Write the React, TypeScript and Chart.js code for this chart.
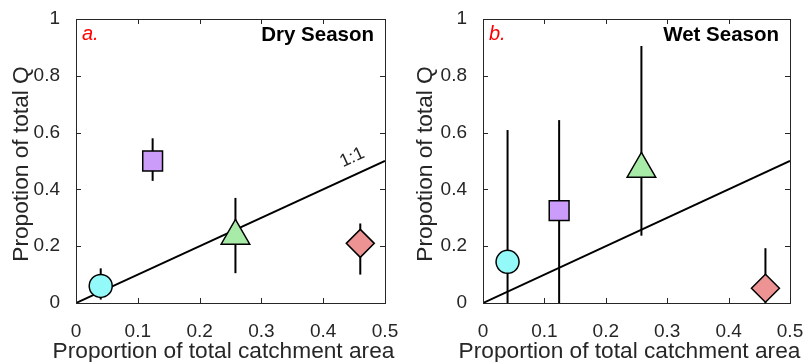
import React, { useEffect, useRef } from 'react';
import { Chart, registerables } from 'chart.js';

Chart.register(...registerables);

// ---- data ----
const areaFraction = [0.04, 0.124, 0.258, 0.46];
const dryQ = [0.06, 0.5, 0.236, 0.21];
const dryLow = [0.012, 0.43, 0.105, 0.1];
const dryHigh = [0.122, 0.58, 0.37, 0.28];
const wetQ = [0.145, 0.325, 0.472, 0.052];
const wetLow = [0, 0, 0.237, 0];
const wetHigh = [0.609, 0.644, 0.905, 0.193];
const oneToOneX = [0, 0.5];
const markerStyles = ['circle', 'rect', 'triangle', 'rectRot'];
const markerColors = ['#94F9F9', '#CC9CFA', '#A8EBA8', '#EE9393'];
const markerRadii = [11.5, 14, 16.5, 14];
const xTickValues = [0, 0.1, 0.2, 0.3, 0.4, 0.5];
const yTickValues = [0, 0.2, 0.4, 0.6, 0.8, 1];
const xTitle = 'Proportion of total catchment area';
const yTitle = 'Propotion of total Q';

const FONT = '"Liberation Sans", Arial, Helvetica, sans-serif';
const AXIS_COLOR = '#262626';

const framePlugin = {
  id: 'frame',
  beforeDatasetsDraw(chart: any, _args: any, opts: any) {
    const { ctx, scales } = chart;
    const x = scales.x, y = scales.y;
    ctx.save();
    ctx.strokeStyle = '#000';
    ctx.lineWidth = 2;
    opts.low.forEach((lo: number, i: number) => {
      const px = x.getPixelForValue(opts.xs[i]);
      ctx.beginPath();
      ctx.moveTo(px, y.getPixelForValue(lo));
      ctx.lineTo(px, y.getPixelForValue(opts.high[i]));
      ctx.stroke();
    });
    ctx.restore();
  },
  afterDatasetsDraw(chart: any, _args: any, opts: any) {
    const { ctx, chartArea: a, scales } = chart;
    const x = scales.x, y = scales.y;
    ctx.save();
    ctx.strokeStyle = AXIS_COLOR;
    ctx.lineWidth = 1;
    ctx.strokeRect(a.left + 0.5, a.top + 0.5, a.right - a.left, a.bottom - a.top);
    const tl = 5;
    ctx.beginPath();
    xTickValues.forEach((v) => {
      const px = Math.round(x.getPixelForValue(v)) + 0.5;
      ctx.moveTo(px, a.bottom);
      ctx.lineTo(px, a.bottom - tl);
      ctx.moveTo(px, a.top);
      ctx.lineTo(px, a.top + tl);
    });
    yTickValues.forEach((v) => {
      const py = Math.round(y.getPixelForValue(v)) + 0.5;
      ctx.moveTo(a.left, py);
      ctx.lineTo(a.left + tl, py);
      ctx.moveTo(a.right, py);
      ctx.lineTo(a.right - tl, py);
    });
    ctx.stroke();

    // axis titles (drawn without width compression)
    ctx.fillStyle = AXIS_COLOR;
    ctx.font = `22.7px ${FONT}`;
    ctx.textAlign = 'center';
    ctx.textBaseline = 'alphabetic';
    ctx.fillText(xTitle, (a.left + a.right) / 2 - 7, 358);
    ctx.save();
    ctx.translate(21.5, (a.top + a.bottom) / 2 + 3);
    ctx.rotate(-Math.PI / 2);
    ctx.textBaseline = 'middle';
    ctx.fillText(yTitle, 0, 0);
    ctx.restore();

    // panel letter
    ctx.fillStyle = '#FF0000';
    ctx.font = `italic 20px ${FONT}`;
    ctx.textBaseline = 'alphabetic';
    ctx.textAlign = 'left';
    ctx.fillText(opts.letter, a.left + 6, a.top + 21);
    // season title
    ctx.fillStyle = '#000';
    ctx.font = `bold 20.5px ${FONT}`;
    ctx.textAlign = 'right';
    ctx.fillText(opts.season, a.right - 11, a.top + 22);

    if (opts.ratioLabel) {
      const p0x = x.getPixelForValue(0), p0y = y.getPixelForValue(0);
      const p1x = x.getPixelForValue(0.5), p1y = y.getPixelForValue(0.5);
      const ang = Math.atan2(p1y - p0y, p1x - p0x);
      const tx = x.getPixelForValue(0.447), ty = y.getPixelForValue(0.512);
      ctx.translate(tx, ty);
      ctx.rotate(ang);
      ctx.font = `18px ${FONT}`;
      ctx.fillStyle = AXIS_COLOR;
      ctx.textAlign = 'center';
      ctx.textBaseline = 'middle';
      ctx.fillText(opts.ratioLabel, 0, 0);
    }
    ctx.restore();
  },
};

const fmt = (v: any) => String(Number(v));

function Panel(props: {
  q: number[]; low: number[]; high: number[]; letter: string; season: string;
  ratioLabel: string | null; axisWidth: number; rightPad: number;
}) {
  const ref = useRef<HTMLCanvasElement>(null);
  useEffect(() => {
    const chart = new Chart(ref.current as HTMLCanvasElement, {
      type: 'scatter',
      data: {
        datasets: [
          {
            type: 'scatter',
            data: areaFraction.map((v, i) => ({ x: v, y: props.q[i] })),
            pointStyle: markerStyles as any,
            pointRadius: markerRadii,
            pointBackgroundColor: markerColors,
            pointBorderColor: '#000',
            pointBorderWidth: 1.5,
            order: 0,
            clip: false as any,
          },
          {
            type: 'line',
            data: oneToOneX.map((v) => ({ x: v, y: v })),
            borderColor: '#000',
            borderWidth: 2,
            pointRadius: 0,
            order: 1,
          } as any,
        ],
      },
      options: {
        animation: false,
        responsive: false,
        devicePixelRatio: 1,
        events: [],
        layout: { padding: { top: 19, right: props.rightPad, left: 0, bottom: 0 } },
        plugins: {
          legend: { display: false },
          tooltip: { enabled: false },
          frame: {
            xs: areaFraction, low: props.low, high: props.high,
            letter: props.letter, season: props.season, ratioLabel: props.ratioLabel,
          },
        } as any,
        scales: {
          x: {
            type: 'linear',
            min: 0,
            max: 0.5,
            afterFit: (s: any) => { s.height = 59; s.paddingLeft = 0; s.paddingRight = 0; },
            afterBuildTicks: (s: any) => { s.ticks = xTickValues.map((v) => ({ value: v })); },
            grid: { display: false },
            border: { display: false },
            ticks: { color: AXIS_COLOR, font: { family: FONT, size: 19 }, padding: 9, maxRotation: 0, callback: fmt },
            title: { display: false },
          },
          y: {
            type: 'linear',
            min: 0,
            max: 1,
            afterFit: (s: any) => { s.width = props.axisWidth; s.paddingTop = 0; s.paddingBottom = 0; },
            afterBuildTicks: (s: any) => { s.ticks = yTickValues.map((v) => ({ value: v })); },
            grid: { display: false },
            border: { display: false },
            ticks: { color: AXIS_COLOR, font: { family: FONT, size: 19 }, padding: 8, callback: fmt },
            title: { display: false },
          },
        },
      },
      plugins: [framePlugin],
    } as any);
    return () => chart.destroy();
  }, []);
  return (
    <canvas ref={ref} width={404} height={362} style={{ display: 'block', width: 404, height: 362 }} />
  );
}

export default function App() {
  return (
    <div style={{ position: 'fixed', left: 0, top: 0, width: 808, height: 362, display: 'flex', background: '#fff' }}>
      <Panel q={dryQ} low={dryLow} high={dryHigh} letter="a." season="Dry Season" ratioLabel="1:1" axisWidth={76} rightPad={19} />
      <Panel q={wetQ} low={wetLow} high={wetHigh} letter="b." season="Wet Season" ratioLabel={null} axisWidth={79} rightPad={17} />
    </div>
  );
}
